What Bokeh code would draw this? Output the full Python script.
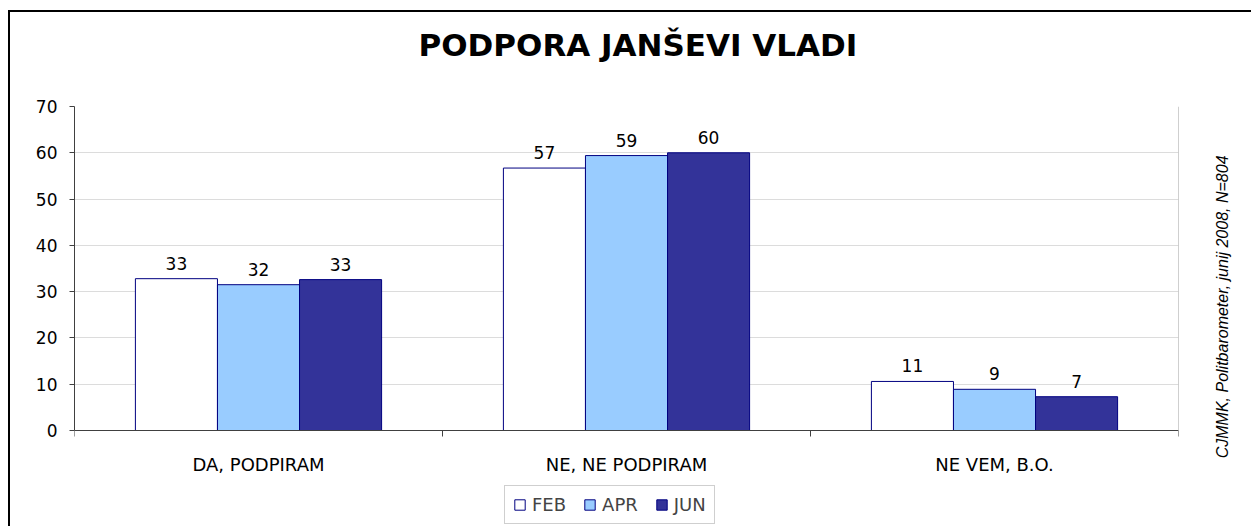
from bokeh.plotting import figure
from bokeh.models import (ColumnDataSource, FixedTicker, Legend, LegendItem,
                          Range1d, LinearAxis, Title)
from bokeh.core.properties import value
from bokeh.embed import file_html
from bokeh.resources import INLINE
import numpy as np

categories = ["DA, PODPIRAM", "NE, NE PODPIRAM", "NE VEM, B.O."]
series = ["FEB", "APR", "JUN"]
feb = [32.8, 56.7, 10.6]
apr = [31.5, 59.4, 8.9]
jun = [32.6, 60.0, 7.3]
fills = ["#FFFFFF", "#99CCFF", "#333399"]
yticks = [0, 10, 20, 30, 40, 50, 60, 70]
title_text = "PODPORA JANŠEVI VLADI"
source_text = "CJMMK, Politbarometer, junij 2008, N=804"

FONT = "DejaVu Sans"
W, H = 1243, 516
Y_LO = -20.74  # frame extends below zero to hold the legend
p = figure(width=W, height=H, output_backend="svg", toolbar_location=None,
           x_range=Range1d(0, len(categories)), y_range=Range1d(Y_LO, yticks[-1]),
           min_border_left=64, min_border_right=75, min_border_top=94,
           min_border_bottom=2)
p.styles = {"margin-left": "8px", "margin-top": "10px",
            "border-left": "2px solid black", "border-top": "2px solid black"}
p.outline_line_color = None

p.title.text = title_text
p.title.text_font = FONT
p.title.text_font_style = "bold"
p.title.text_font_size = "31px"
p.title.text_color = "black"
p.title.align = "left"
p.title.offset = 344
p.title.standoff = 10
# blank spacer between title and plot area
p.add_layout(Title(text=" ", text_font_size="10px", standoff=26), "above")

p.xgrid.grid_line_color = None
p.ygrid.ticker = FixedTicker(ticks=yticks)
p.ygrid.grid_line_color = "#dcdcdc"

# right border of plot area
p.segment(x0=[len(categories)], y0=[yticks[0]], x1=[len(categories)], y1=[yticks[-1]],
          line_color="#a0a0a0", line_width=1)

bw = 0.223
items = []
for j, (name, vals) in enumerate(zip(series, [feb, apr, jun])):
    xs = np.arange(len(categories)) + 0.5 + (j - 1) * bw
    src = ColumnDataSource(dict(x=xs, top=vals, lab=[f"{round(v + 1e-9):d}" for v in vals]))
    r = p.vbar(x="x", top="top", width=bw, source=src, fill_color=fills[j],
               line_color="#000080", line_width=1)
    p.text(x="x", y="top", text="lab", source=src, text_align="center",
           text_baseline="bottom", y_offset=-9, text_font_size="17px",
           text_font=value(FONT), text_color="black")
    items.append(LegendItem(label=name, renderers=[r]))

# y axis
p.yaxis.ticker = FixedTicker(ticks=yticks)
p.yaxis.bounds = (yticks[0], yticks[-1])
p.yaxis.minor_tick_line_color = None
p.yaxis.major_tick_out = 5
p.yaxis.major_tick_in = 0
p.yaxis.major_label_standoff = 12
p.yaxis.axis_line_color = "#404040"
p.yaxis.major_tick_line_color = "#404040"
p.yaxis.major_label_text_font = FONT
p.yaxis.major_label_text_font_size = "17px"
p.yaxis.major_label_text_color = "black"

# x axis, drawn at y = 0
p.xaxis.fixed_location = 0
p.xaxis.ticker = FixedTicker(ticks=[i + 0.5 for i in range(len(categories))],
                             minor_ticks=list(range(len(categories) + 1)))
p.xaxis.major_label_overrides = {i + 0.5: c for i, c in enumerate(categories)}
p.xaxis.major_tick_line_color = None
p.xaxis.major_tick_out = 0
p.xaxis.major_tick_in = 0
p.xaxis.minor_tick_out = 6
p.xaxis.minor_tick_in = 0
p.xaxis.minor_tick_line_color = "#404040"
p.xaxis.axis_line_color = "#404040"
p.xaxis.major_label_standoff = 17
p.xaxis.major_label_text_font = FONT
p.xaxis.major_label_text_font_size = "18px"
p.xaxis.major_label_text_color = "black"

# source note on the right, as a single rotated tick label (anchored at its start)
note_y = -6
ra = LinearAxis(ticker=FixedTicker(ticks=[note_y]),
                major_label_overrides={note_y: source_text},
                major_label_orientation=np.pi / 2,
                axis_line_color=None, major_tick_line_color=None,
                minor_tick_line_color=None,
                major_label_text_font="Liberation Sans",
                major_label_text_font_style="italic",
                major_label_text_font_size="16px",
                major_label_text_color="black",
                major_label_standoff=38)
p.add_layout(ra, "right")

legend = Legend(items=items, orientation="horizontal", location=(430, 2),
                label_text_font=FONT, label_text_font_size="18px",
                glyph_width=13, glyph_height=13, label_standoff=6, spacing=17,
                padding=8, margin=0, border_line_color="#a0a0a0",
                border_line_width=1, label_height=12)
p.add_layout(legend, "center")

open("out.html", "w").write(file_html(p, INLINE))
